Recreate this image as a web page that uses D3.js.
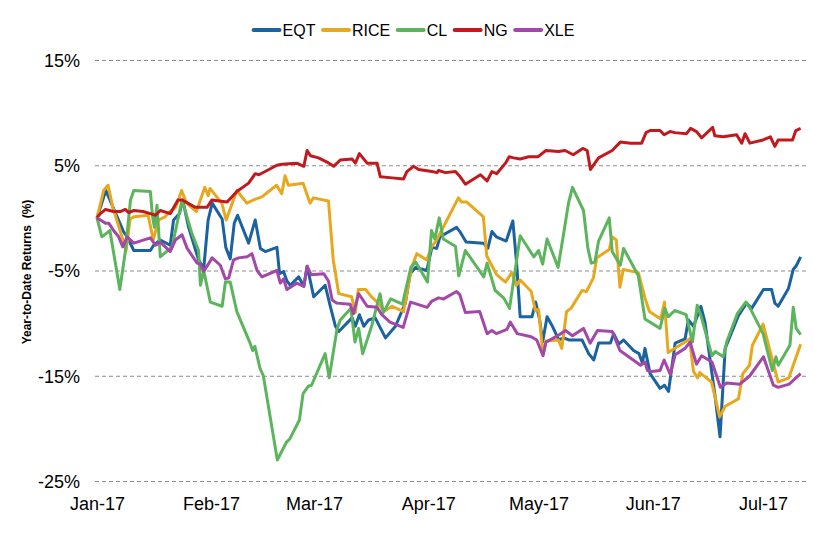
<!DOCTYPE html>
<html>
<head>
<meta charset="utf-8">
<script src="https://cdn.jsdelivr.net/npm/d3@7"></script>
<style>
  html, body { margin: 0; padding: 0; background: #fff; }
  svg { display: block; font-family: "Liberation Sans", Arial, sans-serif; }
</style>
</head>
<body>
<svg id="chart" width="814" height="536"></svg>
<script>
// ---- Data (day offset from 1 Jan 2017, YTD return in %) ----
const seriesNames = ["EQT", "RICE", "CL", "NG", "XLE"];
const seriesColors = ["#1a62a0", "#e8a81e", "#5cb45c", "#c01a1e", "#a347a8"];
const yTickValues = [15, 5, -5, -15, -25];
const monthTicks = ["2017-01-01","2017-02-01","2017-03-01","2017-04-01","2017-05-01","2017-06-01","2017-07-01"];

const eqt = [[0,0],[2.4,2.6],[7.2,-1.3],[8.2,-1.8],[10,-3.1],[14.5,-3.1],[15.4,-2.6],[17.2,-2.1],[19.9,-2.6],[20.8,-0.2],[22.4,0.4],[23.3,1.7],[24.9,-0.9],[27.6,-4.0],[29,-4.8],[30.2,-0.2],[31.3,1.4],[34,-0.1],[35,-2.8],[36.2,-3.9],[37.3,-0.5],[38.2,0.25],[41.2,-2.4],[43,-0.2],[44.4,-2.9],[45.7,-3.2],[48.9,-2.8],[49.6,-5.3],[50.7,-5.1],[51.6,-6.0],[52.5,-6.4],[54.8,-5.6],[56.2,-6.5],[57.1,-4.6],[58.9,-7.5],[62,-6.4],[63.4,-8.4],[64.8,-10.3],[65.7,-10.8],[69.3,-9.5],[70.2,-10.3],[71.3,-9.2],[72.5,-10.3],[73.8,-9.7],[75.6,-9.5],[78.4,-11.4],[81.1,-10.3],[83.8,-8.1],[85.1,-5.3],[86.6,-4.7],[89.6,-5.0],[91,-2.8],[92.3,-2.9],[93.2,-1.8],[97.7,-0.9],[98.6,-1.3],[100.3,-2.3],[105,-2.4],[106.2,-2.9],[107.3,-1.3],[108.5,-1.8],[111.2,-2.2],[113,-0.3],[114,-4.2],[115,-9.4],[118.2,-9.4],[119.2,-8.0],[120.3,-9.7],[121.1,-11.8],[122.3,-9.4],[123.6,-10.2],[125.5,-11.6],[126.8,-11.4],[128.2,-11.6],[131.8,-11.6],[133.6,-12.9],[135,-13.5],[136.3,-11.9],[139.5,-11.9],[140.4,-11.0],[141.8,-12.0],[143.1,-11.6],[145.8,-12.6],[147.3,-12.9],[148.2,-13.8],[148.9,-12.4],[150.3,-14.8],[153,-16.2],[154.2,-15.9],[155.3,-16.5],[157.1,-11.9],[159.8,-11.5],[160.7,-9.7],[162.1,-10.3],[164.1,-8.4],[165.2,-9.9],[167.9,-16.8],[169.3,-20.8],[170.7,-12.4],[174.3,-9.3],[176.5,-8.1],[177.9,-8.6],[181.1,-6.8],[183.3,-6.8],[184.2,-8.1],[185.1,-8.4],[187.9,-6.7],[189.2,-4.9],[190.1,-4.5],[191.2,-3.7]];

const rice = [[0,0],[1.8,2.6],[3,3.1],[4.3,1.0],[6.8,-1.8],[7.9,-3.1],[9,-0.1],[10,0.1],[13.9,0.25],[15.3,-2.1],[16.7,-0.2],[18.5,0.1],[19.8,0.6],[21.4,1.0],[23,2.6],[24.3,1.4],[27,0.6],[29.3,2.9],[30.2,2.1],[30.7,2.8],[33.9,1.4],[35.1,-0.2],[38,2.6],[40.7,1.4],[42.5,1.7],[44.8,2.0],[48.8,3.1],[50.2,2.3],[51.1,4.0],[52,3.1],[56,3.3],[57.9,1.4],[58.8,1.9],[62.9,1.6],[64.2,-4.0],[65.7,-7.2],[69.2,-7.5],[70.2,-9.0],[71,-6.8],[73,-6.8],[74.6,-7.5],[76.5,-8.1],[77.9,-8.9],[80.2,-8.4],[83.3,-8.9],[84.2,-7.2],[85.5,-4.7],[86.9,-3.4],[89.6,-4.0],[91,-2.7],[92.3,-2.1],[98.2,1.9],[99.1,1.5],[100.5,1.5],[105,0.1],[105.9,-3.6],[108.6,-5.4],[111,-6.1],[112.7,-5.2],[113.9,-6.4],[115,-5.9],[118,-7.0],[119.1,-8.8],[120,-8.7],[121.2,-13.0],[122,-11.7],[125.4,-11.6],[126.3,-12.4],[127.6,-8.9],[128.8,-8.6],[131.8,-6.9],[133,-7.0],[134.9,-5.7],[135.8,-3.8],[139.2,-3.0],[140,-1.8],[141.1,-2.1],[142.1,-6.6],[143,-4.9],[147.1,-5.2],[148.9,-7.6],[150.1,-8.9],[153.2,-9.6],[154.2,-8.0],[155.2,-12.8],[159.8,-11.8],[161,-11.5],[162.1,-14.6],[163.2,-15.2],[163.8,-14.7],[167,-15.6],[169.2,-18.9],[170.7,-17.9],[174.3,-17.2],[175.5,-14.8],[177.3,-14.0],[178.1,-12.1],[181,-10.1],[185.1,-15.6],[188,-15.2],[191.2,-12.0]];

const cl = [[0,0],[1.3,-1.8],[2.8,-1.4],[3.5,-1.2],[6.2,-6.8],[7.7,-3.2],[9.1,1.7],[10,2.6],[14.5,2.5],[15.1,0.1],[15.6,-0.9],[16.3,1.2],[17.2,-3.7],[20.4,-2.75],[23.1,1.7],[25.8,-1.5],[27.6,-3.1],[28.1,-6.4],[29,-5.0],[30.8,-8.0],[34,-8.4],[34.9,-6.1],[36.2,-6.1],[38,-8.9],[41.6,-11.9],[42.3,-12.6],[42.9,-12.2],[44.3,-14.3],[45.2,-15.0],[49,-23.0],[51.5,-21.3],[52.4,-21.0],[55,-19.2],[56,-16.7],[57.4,-16.0],[58.3,-15.9],[62,-12.9],[63.1,-15.2],[65.2,-10.6],[66.1,-9.7],[69,-8.6],[70.1,-11.8],[71.1,-10.5],[72.2,-12.9],[74.7,-10.2],[76.9,-7.2],[77.8,-9.0],[79.8,-7.7],[83,-8.2],[85.3,-4.7],[86.6,-4.2],[89.8,-6.1],[90.9,-1.2],[91.8,-2.0],[93,0.0],[94.1,-2.0],[97.4,-2.7],[98.3,-5.5],[100.1,-3.1],[105.1,-5.6],[106,-4.3],[108.2,-6.9],[110.5,-7.6],[112.1,-8.6],[115,-1.7],[118.7,-3.7],[120,-3.1],[121.1,-4.4],[122.3,-2.0],[125.3,-4.7],[126.8,-1.5],[128.1,1.35],[129.2,2.9],[132.2,0.7],[133.4,-2.9],[134.3,-4.3],[135.3,-4.2],[136.3,-2.2],[139.2,0.0],[140,-3.2],[142.2,-4.5],[143.1,-2.9],[147.1,-5.5],[148.9,-9.6],[153,-10.5],[154.3,-8.6],[155.2,-9.4],[157,-8.8],[160.1,-9.2],[161.8,-11.8],[163.1,-8.3],[164.3,-9.5],[167.1,-13.1],[168,-12.7],[170.2,-13.2],[171.1,-11.8],[174,-9.1],[176.3,-8.0],[177.5,-8.6],[181,-11.0],[183.5,-14.5],[184.5,-13.2],[185.1,-14.0],[188.3,-12.1],[189.2,-8.5],[190,-10.5],[191.2,-11.1]];

const ng = [[0,0],[0.9,0.4],[2.3,0.8],[4.5,0.6],[6.3,0.6],[7.7,0.8],[8.6,0.5],[10,0.7],[12.5,0.6],[14.5,0.4],[15.9,0.25],[17.2,0.7],[19.9,0.4],[22,1.7],[23.2,1.7],[26.7,1.0],[29.9,1.0],[31.2,1.7],[35.3,1.5],[36.7,2.0],[38,2.5],[41.2,3.3],[43,4.2],[44,4.1],[46.2,4.5],[48.9,5.0],[50.3,5.1],[54.3,5.2],[56.2,4.9],[57.1,6.4],[58,5.9],[60.2,5.7],[62.5,5.3],[64.3,4.9],[66.1,5.5],[69.3,5.6],[70.2,5.2],[71.3,6.1],[73.4,5.2],[76.1,5.2],[77,3.9],[80.2,3.8],[83.3,3.7],[84.2,4.4],[86,4.9],[87.4,4.6],[91,4.4],[92.4,4.3],[92.8,4.5],[94.7,4.3],[97.4,4.4],[98.7,3.9],[100.1,3.2],[104.2,4.1],[106,3.5],[107.3,4.4],[108.6,4.2],[111,5.2],[112,5.8],[113.2,5.7],[115,5.6],[117.3,5.8],[119.8,5.8],[122,6.4],[125.4,6.3],[127.2,6.4],[129.4,6.0],[132,6.6],[133.2,6.4],[134.1,4.6],[136.3,5.7],[140,6.4],[142.2,7.2],[145,7.1],[148,7.1],[149.2,8.1],[150.3,8.3],[153,8.3],[154.1,7.9],[155.7,8.2],[157,8.1],[160.2,8.0],[161.3,8.5],[162.9,8.2],[164.3,7.6],[167.3,8.6],[167.9,7.8],[170.2,7.7],[173.8,7.9],[175.2,7.1],[176.1,8.0],[177.4,7.1],[181,7.4],[183,7.7],[184.2,6.8],[185.1,7.4],[189,7.4],[189.9,8.3],[191.2,8.5]];

const xle = [[0,0],[0.9,-0.2],[2.3,-0.5],[3.2,-0.5],[4.5,-1.2],[5.9,-1.8],[7,-2.75],[8.2,-1.8],[10,-2.4],[14.5,-1.9],[15.9,-2.6],[17.2,-2.3],[19.9,-3.2],[21.3,-2.1],[23.1,-1.6],[24.5,-2.9],[27.2,-4.3],[28.1,-4.4],[29,-5.1],[31.3,-3.8],[33.5,-4.5],[34.9,-5.8],[35.8,-5.7],[37.1,-4.0],[38.5,-3.8],[40.8,-3.7],[42.1,-3.4],[43.5,-5.0],[44.8,-5.6],[48.9,-5.0],[49.8,-6.2],[50.7,-5.8],[51.6,-6.8],[54.3,-6.2],[56.2,-6.5],[57.1,-4.6],[58.2,-5.4],[61.6,-5.3],[62.9,-6.0],[63.9,-7.8],[65.2,-8.1],[68.8,-8.2],[69.7,-9.1],[71.1,-7.2],[73.4,-8.4],[76.1,-8.5],[77.4,-9.2],[79.6,-9.9],[83.2,-10.4],[85.2,-8.0],[89.7,-8.5],[91,-7.9],[92.8,-7.6],[94.2,-7.7],[97.7,-7.0],[98.6,-7.3],[100.1,-9.0],[104,-8.9],[106,-11.0],[107.3,-10.7],[108.5,-11.0],[111.4,-10.6],[112.3,-9.9],[114.2,-11.0],[118,-11.3],[119.5,-11.6],[121.2,-13.1],[122,-11.8],[125.6,-11.1],[127.3,-10.7],[129.2,-11.2],[132.2,-10.5],[134,-11.9],[136,-10.7],[140,-10.8],[142.1,-12.6],[147.7,-14.0],[148.9,-13.7],[149.6,-14.5],[150.7,-14.6],[153,-14.5],[154.1,-13.5],[155.8,-14.9],[157.1,-13.0],[159.8,-12.4],[161.2,-11.8],[162.9,-13.9],[164.3,-13.1],[167.1,-13.7],[169.4,-16.1],[171.1,-15.7],[174.7,-15.8],[177.4,-15.0],[181.1,-13.2],[183.8,-15.9],[185.1,-16.1],[188.1,-15.8],[191.2,-14.8]];

const seriesData = [eqt, rice, cl, ng, xle];

// ---- Drawing ----
const svg = d3.select("#chart");
const start = Date.UTC(2017, 0, 1);
const toDate = d => new Date(start + d * 864e5);

const x = d3.scaleUtc()
  .domain([new Date(Date.UTC(2017, 0, 1)), new Date(Date.UTC(2017, 6, 14))])
  .range([97, 97 + 194 * 3.68]);
const y = d3.scaleLinear().domain([-25, 15]).range([481, 60]);

// gridlines
svg.append("g").selectAll("line")
  .data(yTickValues).join("line")
  .attr("x1", 95).attr("x2", 807)
  .attr("y1", d => y(d) + 0.5).attr("y2", d => y(d) + 0.5)
  .attr("stroke", "#8c8c8c").attr("stroke-width", 1)
  .attr("stroke-dasharray", "4,3");

// y axis labels
const yAxis = d3.axisLeft(y).tickValues(yTickValues).tickFormat(d => d + "%").tickSize(0).tickPadding(0);
const gy = svg.append("g").attr("transform", "translate(80,0)").call(yAxis);
gy.select(".domain").remove();
gy.selectAll("text").attr("font-size", 18).attr("fill", "#000")
  .attr("font-family", "'Liberation Sans', Arial, sans-serif").attr("dy", "0.36em");

// x axis labels
const parse = d3.utcParse("%Y-%m-%d");
const xAxis = d3.axisBottom(x).tickValues(monthTicks.map(parse))
  .tickFormat(d3.utcFormat("%b-%y")).tickSize(0).tickPadding(0);
const gx = svg.append("g").attr("transform", "translate(0,497)").call(xAxis);
gx.select(".domain").remove();
gx.selectAll("text").attr("font-size", 18).attr("fill", "#000")
  .attr("font-family", "'Liberation Sans', Arial, sans-serif").attr("dy", "0.71em");

// y title
svg.append("text")
  .attr("transform", "translate(31,272) rotate(-90)")
  .attr("text-anchor", "middle")
  .attr("font-size", 12).attr("font-weight", "bold").attr("fill", "#000")
  .attr("xml:space", "preserve")
  .text("Year-to-Date Returns  (%)");

// lines
const line = d3.line().x(d => x(toDate(d[0]))).y(d => y(d[1]));
svg.append("g").selectAll("path")
  .data(seriesData).join("path")
  .attr("d", line)
  .attr("fill", "none")
  .attr("stroke", (d, i) => seriesColors[i])
  .attr("stroke-width", 3)
  .attr("stroke-linejoin", "round");

// legend
const lg = svg.append("g");
let cx = 0;
const gap = 6.5;
seriesNames.forEach((name, i) => {
  const g = lg.append("g");
  g.append("line").attr("x1", cx + 1).attr("x2", cx + 27).attr("y1", 30).attr("y2", 30)
    .attr("stroke", seriesColors[i]).attr("stroke-width", 4).attr("stroke-linecap", "round");
  const t = g.append("text").attr("x", cx + 30).attr("y", 30).attr("dy", "0.35em")
    .attr("font-size", 16).attr("fill", "#000").text(name);
  cx += 30 + t.node().getComputedTextLength() + gap;
});
const totalW = cx - gap;
lg.attr("transform", `translate(${(253 + 574) / 2 - totalW / 2},0)`);
</script>
</body>
</html>
